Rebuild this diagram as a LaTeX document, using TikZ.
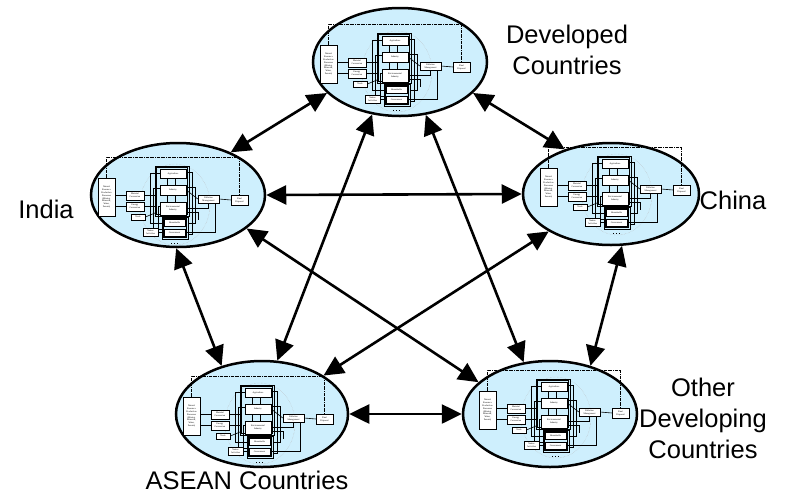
\documentclass[tikz,border=0pt]{standalone}
\usepackage{fontspec}
\setmainfont{Liberation Sans}
\newfontfamily\minifont{Liberation Serif}
\usetikzlibrary{shapes.geometric,arrows.meta}
\definecolor{cfill}{RGB}{206,239,253}
\tikzset{
  mbox/.style={draw, line width=0.55pt, fill=white, inner sep=0pt,
    font=\minifont\fontsize{2.3}{2.9}\selectfont, align=center},
  mline/.style={line width=0.6pt},
  mini/.pic={
    \draw[gray!55, densely dotted, line width=0.4pt] (69,47.5) ellipse [x radius=35, y radius=40.5];
    \draw[line width=0.5pt, densely dash dot] (0,21) -- (0,0) -- (133,0) -- (133,38);
    \draw[line width=0.8pt] (49,9) rectangle (83,59);
    \draw[line width=0.5pt] (50.6,10.6) rectangle (81.4,57.4);
    \draw[line width=0.8pt] (56,60) rectangle (82,82);
    \draw[line width=0.5pt] (57.4,61.4) rectangle (80.6,80.6);
    % internal wiring (drawn under the boxes)
    \draw[mline] (54,16) -| (44,66) -- (56,66);
    \draw[mline] (54,31) -| (47,72) -- (56,72);
    \draw[mline] (54,49) -| (52,77);
    \draw[mline] (80,15) -| (86,77) -- (82,77);
    \draw[mline] (80,30) -| (89,66) -- (82,66);
    \draw[mline] (80,55) -| (92,63);
    \draw[mline] (61,21) -- (61,28);
    \draw[mline] (69,21) -- (69,28);
    \draw[mline] (61,38) -- (61,45);
    \draw[mline] (69,38) -- (69,45);
    \draw[line width=0.9pt, dotted] (65,86) -- (73,86);
    \node[mbox, minimum width=17pt, minimum height=38pt] (-nat) at (0.5,40)
      {Natural\\Resource\\Production\\Processes\\(Mining,\\Minerals,\\Water,\\Forests)};
    \node[mbox, minimum width=18pt, minimum height=9pt] (-mat) at (29,38.5) {Material\\Conversion};
    \node[mbox, minimum width=18pt, minimum height=9pt] (-ene) at (29,49.5) {Energy\\Conversion};
    \node[mbox, minimum width=14pt, minimum height=6pt] (-trade) at (32,60) {Trade};
    \node[mbox, minimum width=15pt, minimum height=8pt] (-nature) at (44.5,75) {Nature\\Activities};
    \node[mbox, minimum width=26pt, minimum height=9pt] (-agri) at (67,16.5) {Agriculture};
    \node[mbox, minimum width=26pt, minimum height=10pt] (-ind) at (67,33) {Industry};
    \node[mbox, minimum width=26pt, minimum height=13pt] (-env) at (67,51.5) {Environmental\\Industry};
    \node[mbox, minimum width=21pt, minimum height=7pt] (-hh) at (68.5,65.5) {Households};
    \node[mbox, minimum width=21pt, minimum height=7pt] (-gov) at (68.5,75.5) {Government};
    \node[mbox, minimum width=21pt, minimum height=8pt] (-pol) at (102.5,42) {Pollution\\Management};
    \node[mbox, minimum width=17pt, minimum height=10pt] (-fd) at (133.5,43) {Final\\Disposal};
    \draw[mline] (-mat.west) -- (-mat.west -| -nat.east);
    \draw[mline] (-ene.west) -- (-ene.west -| -nat.east);
    \draw[mline] (-mat.east) -- ++(11,0);
    \draw[mline] (-ene.east) -- ++(11,0);
    \draw[mline] (-trade.east) -- (49,56);
    \draw[mline] (-nature.east) -- (56,75);
    \draw[mline] (-ind.east) -- (-pol.west);
    \draw[mline] (-env.east) -| (-pol.south);
    \draw[mline] (-gov.east) -| ([xshift=7pt]-pol.south);
    \draw[mline] (-pol.east) -- (-fd.west);
  }
}
\begin{document}
\begin{tikzpicture}[x=1pt,y=-1pt,
  country/.style={ellipse, draw, line width=2.5pt, fill=cfill, inner sep=0pt},
  lbl/.style={font=\fontsize{25.5}{31}\selectfont, align=center, inner sep=0pt},
  biarrow/.style={line width=2.6pt, {Triangle[length=20pt,width=19pt]}-{Triangle[length=20pt,width=19pt]}}]
\useasboundingbox (0,0) rectangle (787,496);
\node[country, minimum width=174pt, minimum height=108pt] (dev) at (400,62) {};
\node[country, minimum width=174pt, minimum height=104pt] (india) at (178,195) {};
\node[country, minimum width=176pt, minimum height=102pt] (china) at (611,194) {};
\node[country, minimum width=172pt, minimum height=106pt] (asean) at (262,414) {};
\node[country, minimum width=174pt, minimum height=106pt] (other) at (550,414) {};
\pic (mdev) at (328,24) {mini};
\pic (mindia) at (106,157) {mini};
\pic (mchina) at (548,147) {mini};
\pic (masean) at (191,376) {mini};
\pic (mother) at (487,370) {mini};
\draw[biarrow] (dev.203) -- (india.39);
\draw[biarrow] (dev.337) -- (china.136);
\draw[biarrow] (india.0) -- (china.180);
\draw[biarrow] (dev.242) -- (asean.74);
\draw[biarrow] (dev.296) -- (other.117);
\draw[biarrow] (india.268) -- (asean.130);
\draw[biarrow] (india.334) -- (other.156);
\draw[biarrow] (china.211) -- (asean.32);
\draw[biarrow] (china.282) -- (other.50);
\draw[biarrow] (asean.0) -- (other.180);
\node[lbl] (ldev) at (567,50) {Developed\\Countries};
\node[lbl, anchor=base] (lindia) at (46,218) {India};
\node[lbl, anchor=base] (lchina) at (733,209) {China};
\node[lbl] (lother) at (703,418) {Other\\Developing\\Countries};
\node[lbl, anchor=base] (lasean) at (247,489) {ASEAN Countries};
\end{tikzpicture}
\end{document}
